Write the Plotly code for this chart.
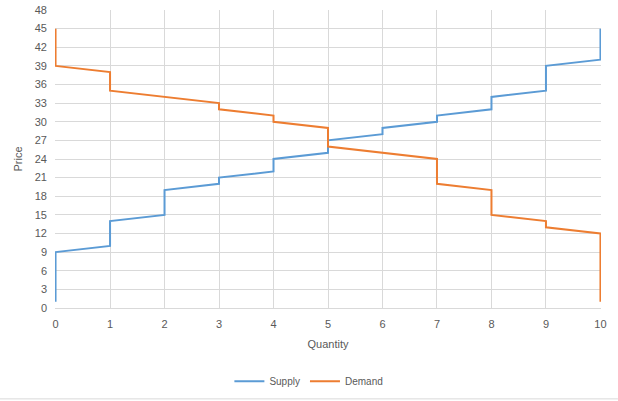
import plotly.graph_objects as go

supply_q = [0, 0, 1, 1, 2, 2, 3, 3, 4, 4, 5, 5, 6, 6, 7, 7, 8, 8, 9, 9, 10, 10]
supply_p = [1, 9, 10, 14, 15, 19, 20, 21, 22, 24, 25, 27, 28, 29, 30, 31, 32, 34, 35, 39, 40, 45]
demand_q = [0, 0, 1, 1, 3, 3, 4, 4, 5, 5, 7, 7, 8, 8, 9, 9, 10, 10]
demand_p = [45, 39, 38, 35, 33, 32, 31, 30, 29, 26, 24, 20, 19, 15, 14, 13, 12, 1]
x_ticks = list(range(0, 11))
y_ticks = list(range(0, 49, 3))

font = "Liberation Sans"
txt = "#595959"
grid = "#d9d9d9"

fig = go.Figure()
fig.add_trace(go.Scatter(x=supply_q, y=supply_p, mode="lines", name="Supply",
                         line=dict(color="#5b9bd5", width=2)))
fig.add_trace(go.Scatter(x=demand_q, y=demand_p, mode="lines", name="Demand",
                         line=dict(color="#ed7d31", width=2)))

fig.add_shape(type="line", xref="paper", yref="paper",
              x0=-0.101, x1=1.031, y0=-0.305, y1=-0.305,
              line=dict(color=grid, width=1))

fig.update_layout(
    width=618, height=401,
    margin=dict(l=55, r=17, t=10, b=93, autoexpand=False),
    paper_bgcolor="white", plot_bgcolor="white",
    font=dict(family=font, size=11, color=txt),
    showlegend=True,
    legend=dict(orientation="h", x=0.465, xanchor="center", y=-0.197, yanchor="top",
                font=dict(size=10, color=txt), itemwidth=30),
    xaxis=dict(range=[-0.01, 10.01], tickvals=x_ticks, showgrid=True, gridcolor=grid,
               gridwidth=1, zeroline=False, showline=True, linecolor=grid,
               ticks="", ticklen=0, automargin=False, ticklabelstandoff=6,
               title=dict(text="Quantity", font=dict(size=11, color=txt), standoff=11)),
    yaxis=dict(range=[0, 48], tickvals=y_ticks, showgrid=True, gridcolor=grid,
               gridwidth=1, zeroline=False, showline=False, automargin=False,
               ticklabelstandoff=7,
               title=dict(text="Price", font=dict(size=11, color=txt), standoff=9)),
)

fig.write_html("out.html", config={"displayModeBar": False},
               post_script="document.body.style.margin='0';")
